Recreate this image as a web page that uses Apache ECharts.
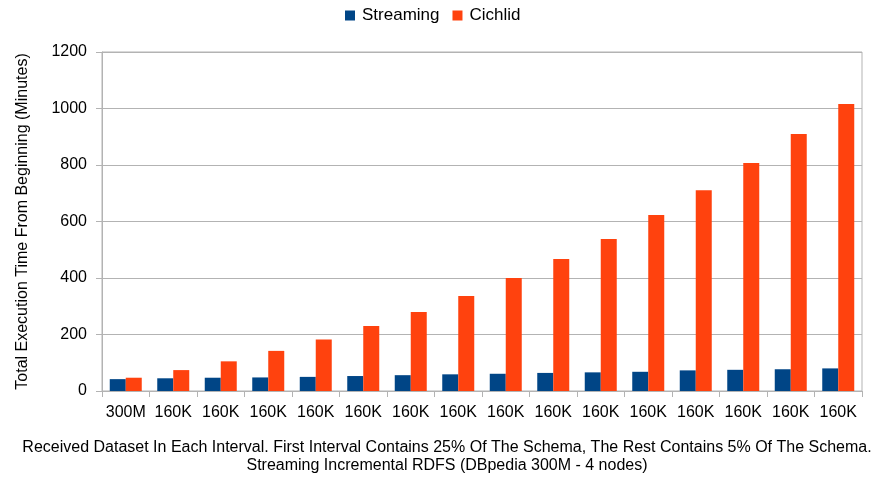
<!DOCTYPE html>
<html>
<head>
<meta charset="utf-8">
<script src="https://cdn.jsdelivr.net/npm/echarts@6/dist/echarts.min.js"></script>
<style>html,body{margin:0;padding:0;background:#fff}#c{width:876px;height:478px}</style>
</head>
<body>
<div id="c"></div>
<script>
const categories = ['300M','160K','160K','160K','160K','160K','160K','160K','160K','160K','160K','160K','160K','160K','160K','160K'];
const streaming = [42,45,47,48,50,53,56,59,61,64,66,68,73,75,77,80];
const cichlid = [47,74,105,142,182,230,280,336,400,467,538,623,711,807,910,1016];
const yTicks = [0,200,400,600,800,1000,1200];
const xTitleLines = ['Received Dataset In Each Interval. First Interval Contains 25% Of The Schema, The Rest Contains 5% Of The Schema.',
  'Streaming Incremental RDFS (DBpedia 300M - 4 nodes)'];

const chart = echarts.init(document.getElementById('c'));
const font = 'Liberation Sans, Arial, sans-serif';
chart.setOption({
  animation: false,
  textStyle: {fontFamily: font},
  legend: {
    top: 2, left: 340, itemWidth: 10, itemHeight: 10, itemGap: 13,
    icon: 'rect',
    textStyle: {fontFamily: font, fontSize: 17, color: '#000', padding: [0, 0, 0, 2]},
    data: ['Streaming','Cichlid']
  },
  graphic: xTitleLines.map((t, i) => ({
    type: 'text', x: 447, y: 448 + i * 18, silent: true,
    style: {text: t, fontFamily: font, fontSize: 16, fill: '#000', align: 'center', verticalAlign: 'middle'}
  })),
  grid: {left: 102, right: 14, top: 52, bottom: 87, show: true, borderColor: '#b3b3b3', borderWidth: 1,
    containLabel: false, outerBoundsMode: 'none'},
  xAxis: {
    type: 'category', data: categories, boundaryGap: true,
    axisLine: {lineStyle: {color: '#b3b3b3'}},
    axisTick: {show: true, length: 6, lineStyle: {color: '#b3b3b3'}},
    axisLabel: {fontFamily: font, fontSize: 16, color: '#000', margin: 14, interval: 0}
  },
  yAxis: {
    type: 'value', min: 0, max: 1200, interval: 200,
    name: 'Total Execution Time From Beginning (Minutes)',
    nameLocation: 'middle', nameGap: 71, nameRotate: 90,
    nameTextStyle: {fontFamily: font, fontSize: 16, color: '#000'},
    axisLine: {show: true, lineStyle: {color: '#b3b3b3'}},
    axisTick: {show: true, length: 6, lineStyle: {color: '#b3b3b3'}},
    axisLabel: {fontFamily: font, fontSize: 16, color: '#000', margin: 15,
      formatter: v => yTicks.includes(v) ? String(v) : ''},
    splitLine: {lineStyle: {color: '#b3b3b3'}}
  },
  series: [
    {name: 'Streaming', type: 'bar', data: streaming, barWidth: 16, barGap: '0%', itemStyle: {color: '#004586'}},
    {name: 'Cichlid', type: 'bar', data: cichlid, barWidth: 16, barGap: '0%', itemStyle: {color: '#ff420e'}}
  ]
});
</script>
</body>
</html>
